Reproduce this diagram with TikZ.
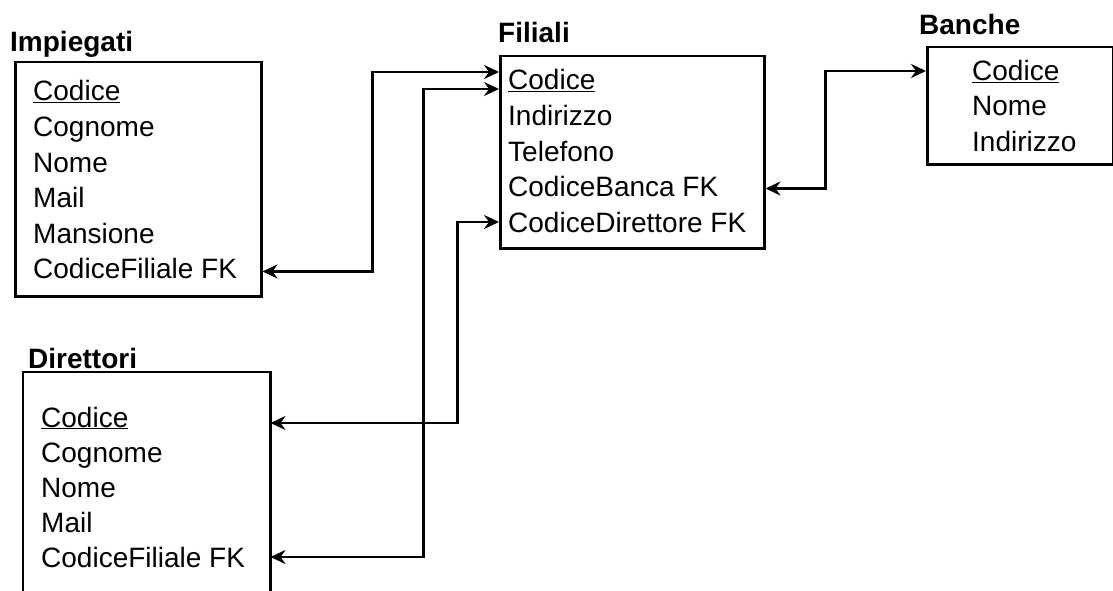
\documentclass[tikz,border=0pt]{standalone}
\usepackage{fontspec}
\setmainfont{Liberation Sans}
\usetikzlibrary{arrows.meta,calc}

\tikzset{
  attr/.style={anchor=west, inner sep=0pt, text height=20pt, text depth=0pt,
    font=\fontsize{28}{34}\selectfont},
  tabtitle/.style={attr, font=\fontsize{28}{34}\selectfont\bfseries},
  tablebox/.style={anchor=north west, inner sep=0pt, line width=2.5pt},
  link/.style={line width=2.5pt,
    {Stealth[length=15pt,width=14pt,inset=5pt]}-{Stealth[length=15pt,width=14pt,inset=5pt]}},
}

\begin{document}
\begin{tikzpicture}[x=1pt, y=-1pt]
  \useasboundingbox (0,0) rectangle (1113,591);

  % Impiegati
  \node[tabtitle] (impT) at (10,42) {Impiegati};
  \node[tablebox, draw, minimum width=246pt, minimum height=234pt] (imp) at (14,61) {};
  \foreach \t [count=\i] in {\underline{Codice},Cognome,Nome,Mail,Mansione,CodiceFiliale FK}
    \node[attr] (imp\i) at (33,{91+35.5*(\i-1)}) {\t};

  % Filiali
  \node[tabtitle] (filT) at (498,33) {Filiali};
  \node[tablebox, draw, minimum width=264pt, minimum height=192pt] (fil) at (499,55) {};
  \foreach \t [count=\i] in {\underline{Codice},Indirizzo,Telefono,CodiceBanca FK,CodiceDirettore FK}
    \node[attr] (fil\i) at (508,{80+35.5*(\i-1)}) {\t};

  % Banche
  \node[tabtitle] (banT) at (919,25) {Banche};
  \node[tablebox, draw, minimum width=186pt, minimum height=117pt] (ban) at (926,46) {};
  \foreach \t [count=\i] in {\underline{Codice},Nome,Indirizzo}
    \node[attr] (ban\i) at (972,{71+35*(\i-1)}) {\t};

  % Direttori (box runs off the bottom)
  \node[tabtitle] (dirT) at (28,358) {Direttori};
  \node[tablebox, minimum width=245pt, minimum height=222pt] (dir) at (23,372) {};
  \draw[line width=2.5pt] (dir.south west) -- (dir.north west) -- (dir.north east) -- (dir.south east);
  \foreach \t [count=\i] in {\underline{Codice},Cognome,Nome,Mail,CodiceFiliale FK}
    \node[attr] (dir\i) at (41,{417+35*(\i-1)}) {\t};

  % foreign keys
  \draw[link] ($(imp.east |- imp6)+(0,3)$) -- ++(110,0) |- ($(fil.west |- fil1)+(0,-8)$);
  \draw[link] (dir.east |- dir5) -- ++(153,0) |- ($(fil.west |- fil1)+(0,9)$);
  \draw[link] ($(dir.east |- dir1)+(0,6)$) -- ++(187,0) |- (fil.west |- fil5);
  \draw[link] ($(fil.east |- fil4)+(0,2)$) -- ++(60,0) |- (ban.west |- ban1);
\end{tikzpicture}
\end{document}
